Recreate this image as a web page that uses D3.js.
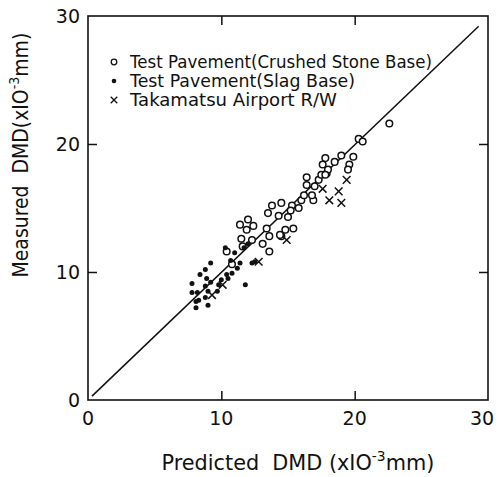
<!DOCTYPE html>
<html>
<head>
<meta charset="utf-8">
<script src="https://cdn.jsdelivr.net/npm/d3@7"></script>
<style>
  body { margin: 0; background: #fff; }
  svg text { font-family: "DejaVu Sans", sans-serif; fill: #111; }
</style>
</head>
<body>
<div id="chartContainer"></div>
<script>
// crushed stone base (open circles) [predicted, measured]
const crushedStone = [
  [11.4,13.7],[12.0,14.1],[12.4,13.6],[11.5,12.6],[11.6,12.0],[13.4,13.4],[13.8,15.2],[13.5,14.6],
  [14.5,15.4],[14.3,14.4],[15.0,14.3],[15.3,15.2],[15.2,14.8],[15.8,15.0],[16.0,15.6],[16.2,16.0],
  [16.4,16.8],[16.4,17.4],[16.9,15.6],[16.8,16.0],[17.0,16.7],[17.3,17.2],[17.5,17.6],[17.9,17.7],
  [13.6,11.6],[13.1,12.2],[13.6,12.8],[14.5,12.8],[15.4,13.4],[14.8,13.3],[14.4,12.9],[20.3,20.4],
  [20.6,20.2],[19.9,19.0],[19.6,18.4],[19.5,18.0],[19.0,19.1],[18.5,18.6],[17.8,18.9],[17.6,18.4],
  [18.0,18.0],[17.8,17.6],[22.6,21.6],[10.4,11.6],[10.8,10.6],[11.9,13.3],[12.3,12.5]
];
// slag base (filled dots)
const slagBase = [
  [7.8,8.4],[9.2,10.7],[8.2,8.4],[8.3,7.8],[8.1,7.2],[8.4,9.8],[8.8,10.2],[8.9,9.5],[9.2,9.2],
  [8.8,8.9],[9.0,8.5],[8.8,8.0],[9.0,7.4],[9.7,8.5],[9.8,9.0],[10.0,9.4],[10.4,9.8],[10.3,11.9],
  [10.7,10.9],[11.0,11.5],[10.8,9.9],[10.5,9.5],[11.2,10.3],[11.4,10.7],[11.8,9.0],[12.3,10.7],
  [11.7,11.9],[12.0,12.2],[7.8,9.1],[8.1,7.7],[12.5,10.8]
];
// Takamatsu Airport R/W (crosses)
const takamatsu = [
  [12.8,10.8],[14.9,12.5],[17.6,16.5],[18.1,15.6],[18.8,16.3],[19.0,15.4],[19.4,17.2],
  [9.3,8.2],[10.1,9.0]
];
const lineEnds = [[0.3,0.3],[29.3,29.2]];
const tickValues = [0, 10, 20, 30];
const legendLabels = [
  "Test Pavement(Crushed Stone Base)",
  "Test Pavement(Slag Base)",
  "Takamatsu Airport R/W"
];
const legendWidths = [302, 225, 207];

const W = 498, H = 477;
const plot = { left: 88, right: 488, top: 16, bottom: 400 };

const svg = d3.select("#chartContainer").append("svg")
  .attr("width", W).attr("height", H);

const x = d3.scaleLinear().domain([0, 30]).range([plot.left, plot.right]);
const y = d3.scaleLinear().domain([0, 30]).range([plot.bottom, plot.top]);

// frame
svg.append("rect")
  .attr("x", plot.left).attr("y", plot.top)
  .attr("width", plot.right - plot.left).attr("height", plot.bottom - plot.top)
  .attr("fill", "none").attr("stroke", "#111").attr("stroke-width", 1.6);

// inward ticks on all four sides
const inner = [10, 20];
svg.append("g").attr("transform", `translate(0,${plot.bottom})`)
  .call(d3.axisTop(x).tickValues(inner).tickSize(9).tickFormat(""))
  .call(g => g.select(".domain").remove());
svg.append("g").attr("transform", `translate(0,${plot.top})`)
  .call(d3.axisBottom(x).tickValues(inner).tickSize(9).tickFormat(""))
  .call(g => g.select(".domain").remove());
svg.append("g").attr("transform", `translate(${plot.left},0)`)
  .call(d3.axisRight(y).tickValues(inner).tickSize(9).tickFormat(""))
  .call(g => g.select(".domain").remove());
svg.append("g").attr("transform", `translate(${plot.right},0)`)
  .call(d3.axisLeft(y).tickValues(inner).tickSize(9).tickFormat(""))
  .call(g => g.select(".domain").remove());
svg.selectAll(".tick line").attr("stroke", "#111").attr("stroke-width", 1.5);

// tick labels
svg.selectAll(".xlab").data(tickValues).enter().append("text")
  .attr("x", d => d === 30 ? x(d) - 6 : x(d)).attr("y", plot.bottom + 25)
  .attr("text-anchor", "middle").style("font-size", "19px")
  .text(d => d);
svg.selectAll(".ylab").data(tickValues).enter().append("text")
  .attr("x", plot.left - 8).attr("y", d => y(d) + 7)
  .attr("text-anchor", "end").style("font-size", "19px")
  .text(d => d);

// 1:1 line
svg.append("line")
  .attr("x1", x(lineEnds[0][0])).attr("y1", y(lineEnds[0][1]))
  .attr("x2", x(lineEnds[1][0])).attr("y2", y(lineEnds[1][1]))
  .attr("stroke", "#111").attr("stroke-width", 1.5);

// points
svg.selectAll(".open").data(crushedStone).enter().append("circle")
  .attr("cx", d => x(d[0])).attr("cy", d => y(d[1])).attr("r", 3.3)
  .attr("fill", "#fff").attr("stroke", "#111").attr("stroke-width", 1.5);
svg.selectAll(".dot").data(slagBase).enter().append("circle")
  .attr("cx", d => x(d[0])).attr("cy", d => y(d[1])).attr("r", 2.5)
  .attr("fill", "#111");
const cross = d3.symbol().type(d3.symbolX).size(40);
svg.selectAll(".cross").data(takamatsu).enter().append("path")
  .attr("transform", d => `translate(${x(d[0])},${y(d[1])})`)
  .attr("d", cross).attr("fill", "none").attr("stroke", "#111").attr("stroke-width", 1.5);

// legend
const lg = svg.append("g");
legendLabels.forEach((t, i) => {
  const ly = 62 + i * 19;
  if (i === 0) lg.append("circle").attr("cx", 114).attr("cy", ly).attr("r", 2.8)
    .attr("fill", "none").attr("stroke", "#111").attr("stroke-width", 1.3);
  if (i === 1) lg.append("circle").attr("cx", 114).attr("cy", ly).attr("r", 2.3).attr("fill", "#111");
  if (i === 2) lg.append("path").attr("transform", `translate(114,${ly})`)
    .attr("d", d3.symbol().type(d3.symbolX).size(30)).attr("fill", "none")
    .attr("stroke", "#111").attr("stroke-width", 1.3);
  lg.append("text").attr("x", 130).attr("y", ly + 6).style("font-size", "17px")
    .attr("textLength", legendWidths[i]).attr("lengthAdjust", "spacingAndGlyphs").text(t);
});

// axis titles, squeezed to the width of the original lettering
function title(tx, ty, rot, len, pre) {
  const g = svg.append("g");
  const t = g.append("text").style("font-size", "21px");
  t.append("tspan").text(pre + "\u00a0DMD" + (rot ? "" : "\u00a0") + "(xIO");
  t.append("tspan").attr("dy", -9).style("font-size", "14px").text("-3");
  t.append("tspan").attr("dy", 9).text("mm)");
  const w = t.node().getComputedTextLength();
  t.attr("x", -w / 2);
  g.attr("transform", `translate(${tx},${ty}) rotate(${rot}) scale(${len / w},1)`);
}
title(298, 470, 0, 273, "Predicted\u00a0");
title(28, 155, -90, 245, "Measured\u00a0");
</script>
</body>
</html>
